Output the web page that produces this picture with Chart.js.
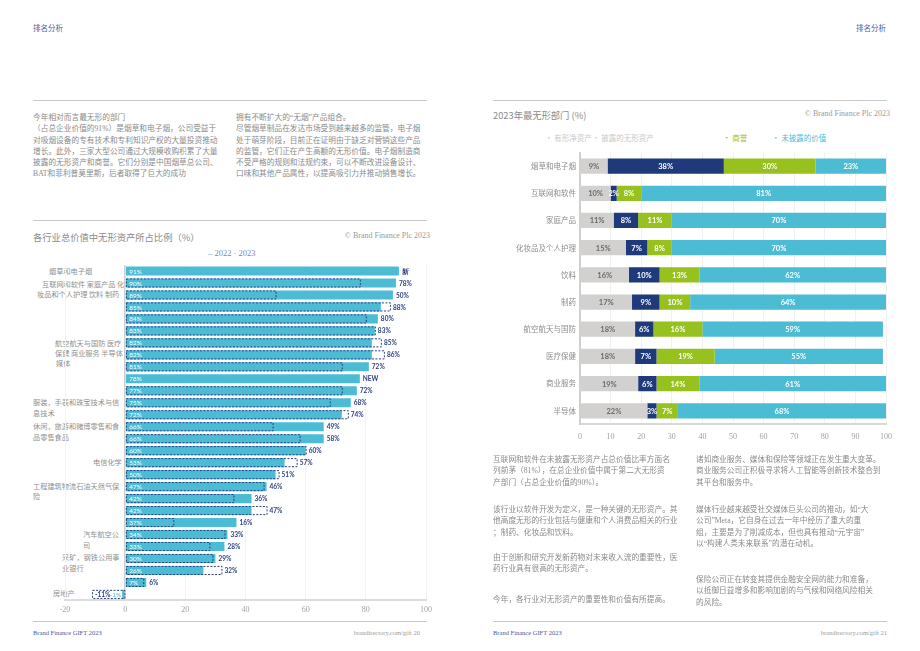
<!DOCTYPE html>
<html lang="zh">
<head>
<meta charset="utf-8">
<title>排名分析</title>
<script src="https://cdn.jsdelivr.net/npm/chart.js@4.4.1/dist/chart.umd.min.js"></script>
<style>
  html, body { margin: 0; padding: 0; background: #fff; }
  body { width: 920px; height: 651px; position: relative; overflow: hidden;
         font-family: "Noto Sans CJK SC", "Noto Sans", sans-serif; }
  .abs { position: absolute; white-space: nowrap; }
  .head { font-size: 7.5px; color: #4b5ca3; top: 22px; }
  .rule { position: absolute; height: 0; border-top: 1px solid #c8c8c8; }
  .body { font-family: "Liberation Serif", "Noto Sans CJK SC", serif; font-size: 7.7px; line-height: 11.3px; color: #8a8a8a; }
  .title { font-size: 9.3px; color: #8c8c8c; }
  .copy { font-family: "Liberation Serif", serif; font-size: 8px; color: #9a9a9a; }
  .foot { font-family: "Liberation Serif", serif; font-size: 6.5px; top: 629px; }
  .cat { font-size: 7.2px; color: #8f8f8f; line-height: 10px; }
  .legend { font-size: 7.5px; }
  canvas { position: absolute; }
</style>
</head>
<body>
<!-- headers -->
<div class="abs head" style="left:33px">排名分析</div>
<div class="abs head" style="left:856px">排名分析</div>

<div class="rule" style="left:33px; width:394px; top:100px"></div>
<div class="rule" style="left:493px; width:394px; top:100px"></div>
<div class="rule" style="left:33px; width:394px; top:220px"></div>

<!-- left page text -->
<div class="abs body" style="left:33px; top:112px">今年相对而言最无形的部门<br>（占总企业价值的91%）是烟草和电子烟，公司受益于<br>对吸烟设备的专有技术和专利知识产权的大量投资推动<br>增长。此外，三家大型公司通过大规模收购积累了大量<br>披露的无形资产和商誉。它们分别是中国烟草总公司、<br>BAT和菲利普莫里斯，后者取得了巨大的成功</div>
<div class="abs body" style="left:236px; top:112px">拥有不断扩大的“无烟”产品组合。<br>尽管烟草制品在发达市场受到越来越多的监管，电子烟<br>处于萌芽阶段，目前正在证明由于缺乏对营销这些产品<br>的监管，它们正在产生高额的无形价值。电子烟制造商<br>不受严格的规则和法规约束，可以不断改进设备设计、<br>口味和其他产品属性，以提高吸引力并推动销售增长。</div>

<!-- left chart -->
<div class="abs title" style="left:33px; top:230px">各行业总价值中无形资产所占比例（%）</div>
<div class="abs copy" style="right:490px; top:231px">© Brand Finance Plc 2023</div>
<div class="abs copy" id="yearLegend" style="left:208px; top:248px; color:#7d88b9; font-size:8.5px"></div>

<div class="abs cat" style="left:49px; top:266px">烟草和电子烟</div>
<div class="abs cat" style="left:42px; top:279px">互联网和软件 家庭产品 化</div>
<div class="abs cat" style="left:37px; top:289px">妆品和个人护理 饮料 制药</div>
<div class="abs cat" style="left:55px; top:338px">航空航天与国防 医疗</div>
<div class="abs cat" style="left:55px; top:348px">保健 商业服务 半导体</div>
<div class="abs cat" style="left:56px; top:358px">媒体</div>
<div class="abs cat" style="left:33px; top:397px">服装，手表和珠宝技术与信</div>
<div class="abs cat" style="left:33px; top:408px">息技术</div>
<div class="abs cat" style="left:33px; top:421px">休闲，旅游和赌博零售和食</div>
<div class="abs cat" style="left:33px; top:432px">品零售食品</div>
<div class="abs cat" style="left:93px; top:457px">电信化学</div>
<div class="abs cat" style="left:33px; top:481px">工程建筑物流石油天然气保</div>
<div class="abs cat" style="left:33px; top:491px">险</div>
<div class="abs cat" style="left:83px; top:529px">汽车航空公</div>
<div class="abs cat" style="left:83px; top:540px">司</div>
<div class="abs cat" style="left:62px; top:552px">采矿，钢铁公用事</div>
<div class="abs cat" style="left:62px; top:563px">业银行</div>
<div class="abs cat" style="left:53px; top:588px">房地产</div>

<canvas id="shareChart" width="410" height="362" style="left:30px; top:258px"></canvas>

<!-- right chart -->
<div class="abs title" style="left:493px; top:108px">2023年最无形部门 (%)</div>
<div class="abs copy" style="right:30px; top:109px">© Brand Finance Plc 2023</div>
<div id="partLegend"></div>
<canvas id="partChart" width="410" height="315" style="left:490px; top:144px"></canvas>

<!-- right page text -->
<div class="abs body" style="left:493px; top:454px">互联网和软件在未披露无形资产占总价值比率方面名<br>列前茅（81%），在总企业价值中属于第二大无形资<br>产部门（占总企业价值的90%）。</div>
<div class="abs body" style="left:493px; top:504px">该行业以软件开发为定义，是一种关键的无形资产。其<br>他高度无形的行业包括与健康和个人消费品相关的行业<br>；制药、化妆品和饮料。</div>
<div class="abs body" style="left:493px; top:552px">由于创新和研究开发新药物对未来收入流的重要性，医<br>药行业具有很高的无形资产。</div>
<div class="abs body" style="left:493px; top:594px">今年，各行业对无形资产的重要性和价值有所提高。</div>
<div class="abs body" style="left:696px; top:454px">诸如商业服务、媒体和保险等领域正在发生重大变革。<br>商业服务公司正积极寻求将人工智能等创新技术整合到<br>其平台和服务中。</div>
<div class="abs body" style="left:696px; top:504px">媒体行业越来越受社交媒体巨头公司的推动，如“大<br>公司”Meta，它自身在过去一年中经历了重大的重<br>组，主要是为了削减成本，但也具有推动“元宇宙”<br>以“构建人类未来联系”的潜在动机。</div>
<div class="abs body" style="left:696px; top:574px">保险公司正在转变其提供金融安全网的能力和准备，<br>以抵御日益增多和影响加剧的与气候和网络风险相关<br>的风险。</div>

<!-- footers -->
<div class="rule" style="left:33px; width:394px; top:621px"></div>
<div class="rule" style="left:493px; width:394px; top:621px"></div>
<div class="abs foot" style="left:33px; color:#4b5a9c">Brand Finance GIFT 2023</div>
<div class="abs foot" style="right:500px; color:#9a9a9a">brandirectory.com/gift 20</div>
<div class="abs foot" style="left:493px; color:#4b5a9c">Brand Finance GIFT 2023</div>
<div class="abs foot" style="right:33px; color:#9a9a9a">brandirectory.com/gift 21</div>

<script>
// Left chart data
let sectors = ["烟草和电子烟", "互联网和软件", "家庭产品", "化妆品和个人护理", "饮料", "制药",
    "航空航天与国防", "医疗保健", "商业服务", "半导体", "媒体", "服装、手表和珠宝", "技术与信息技术",
    "休闲、旅游和赌博", "零售和食品零售", "食品", "电信", "化学", "工程建筑", "物流", "石油天然气",
    "保险", "汽车", "航空公司", "采矿、钢铁", "公用事业", "银行", "房地产"];
let years = ["2022", "2023"];
let share2023 = [91, 90, 89, 85, 84, 83, 82, 82, 81, 78, 77, 75, 72, 66, 66, 60, 53, 50, 47, 42, 42, 37, 34, 33, 30, 26, 7, -1];
let share2022 = [null, 78, 50, 88, 80, 83, 85, 86, 72, null, 72, 68, 74, 49, 58, 60, 57, 51, 46, 36, 47, 16, 33, 28, 29, 32, 6, -11];
let newTags = ["新", "NEW"]; // shown in order on rows without a 2022 value

// Right chart data
let topSectors = ["烟草和电子烟", "互联网和软件", "家庭产品", "化妆品及个人护理", "饮料", "制药",
    "航空航天与国防", "医疗保健", "商业服务", "半导体"];
let partNames = ["有形净资产", "披露的无形资产", "商誉", "未披露的价值"];
let tangible = [9, 10, 11, 15, 16, 17, 18, 18, 19, 22];
let disclosed = [38, 2, 8, 7, 10, 9, 6, 7, 6, 3];
let goodwill = [30, 8, 11, 8, 13, 10, 16, 19, 14, 7];
let undisclosed = [23, 81, 70, 70, 62, 64, 59, 55, 61, 68];

let cyan = "#4bbcd4";
let navy = "#2c3f85";
let partColors = ["#d2d1cf", "#1e3a7b", "#97c11f", cyan];

Chart.defaults.font.family = "'Liberation Serif', serif";
Chart.defaults.color = "#9a9a9a";

// Legends as text
document.getElementById("yearLegend").textContent = "– " + years[0] + " · " + years[1];
let legendX = [545, 592, 723, 772];
let legendText = ["#c9c9c9", "#c9c9c9", "#97c11f", cyan];
partNames.forEach((name, i) => {
    let s = document.createElement("div");
    s.className = "abs legend";
    s.style.left = legendX[i] + "px";
    s.style.top = "132px";
    s.style.color = legendText[i];
    s.textContent = "· " + name;
    document.getElementById("partLegend").appendChild(s);
});

// Dashed 2022 boxes and value labels
const shareLabels = {
    id: "shareLabels",
    afterDatasetsDraw(chart) {
        let ctx = chart.ctx;
        let x = chart.scales.x;
        let bars = chart.getDatasetMeta(0).data;
        let prev = chart.getDatasetMeta(1).data;
        let zero = x.getPixelForValue(0);
        let tag = 0;
        ctx.save();
        ctx.textBaseline = "middle";
        bars.forEach((bar, i) => {
            let h = bar.height;
            let v = share2023[i];
            let p = share2022[i];
            let top = bar.y - h / 2;
            if (p !== null) {
                let pb = prev[i];
                let x0 = Math.min(pb.base, pb.x), x1 = Math.max(pb.base, pb.x);
                ctx.setLineDash([2, 1.5]);
                ctx.strokeStyle = navy;
                ctx.lineWidth = 1;
                ctx.strokeRect(x0 + 0.5, top + 0.5, x1 - x0, h - 1);
                ctx.setLineDash([]);
            }
            if (v >= 0) {
                ctx.font = "6.5px Lato";
                ctx.fillStyle = "#ffffff";
                ctx.textAlign = "left";
                ctx.fillText(v + "%", zero + 4, bar.y + 0.5);
                ctx.font = "bold 6.5px Lato";
                ctx.fillStyle = navy;
                let txt = p === null ? newTags[tag++] : p + "%";
                let end = p === null ? bar.x : Math.max(bar.x, prev[i].x);
                ctx.fillText(txt, end + 3, bar.y + 0.5);
            } else {
                ctx.font = "bold 6.5px Lato";
                ctx.fillStyle = navy;
                ctx.textAlign = "left";
                ctx.fillText(p + "%", Math.min(prev[i].x, bar.x) + 3, bar.y + 0.5);
                ctx.font = "6.5px Lato";
                ctx.fillStyle = cyan;
                ctx.textAlign = "right";
                ctx.fillText(v + "%", bar.x - 1, bar.y + 0.5);
            }
        });
        ctx.restore();
    }
};

new Chart(document.getElementById("shareChart"), {
    type: "bar",
    data: {
        labels: sectors,
        datasets: [
            { label: years[1], data: share2023, backgroundColor: cyan, grouped: false,
              barPercentage: 0.76, categoryPercentage: 1 },
            { label: years[0], data: share2022, backgroundColor: "rgba(0,0,0,0)", grouped: false,
              barPercentage: 0.76, categoryPercentage: 1 }
        ]
    },
    options: {
        indexAxis: "y",
        responsive: false,
        animation: false,
        layout: { padding: { left: 35, right: 14, top: 7, bottom: 0 } },
        plugins: { legend: { display: false }, tooltip: { enabled: false } },
        scales: {
            x: {
                min: -20, max: 100,
                ticks: { stepSize: 20, padding: 5, font: { size: 8 }, color: "#a0a0a0" },
                grid: {
                    drawTicks: false,
                    color: c => c.tick && c.tick.value === 0 ? "#cfcfcf" : "#f3f3f3",
                    lineWidth: c => c.tick && c.tick.value === 0 ? 1.5 : 1
                },
                border: { color: "#dcdcdc", width: 2 }
            },
            y: { display: false }
        }
    },
    plugins: [shareLabels]
});

// Segment labels for the stacked chart
const partLabels = {
    id: "partLabels",
    afterDatasetsDraw(chart) {
        let ctx = chart.ctx;
        ctx.save();
        ctx.font = "bold 7.5px Lato";
        ctx.textAlign = "center";
        ctx.textBaseline = "middle";
        chart.data.datasets.forEach((ds, d) => {
            chart.getDatasetMeta(d).data.forEach((el, i) => {
                ctx.fillStyle = d === 0 ? "#6b6b6b" : "#ffffff";
                let right = Math.min(el.x, chart.chartArea.right);
                ctx.fillText(ds.data[i] + "%", (el.base + right) / 2, el.y + 0.5);
            });
        });
        ctx.restore();
    }
};

let partData = [tangible, disclosed, goodwill, undisclosed];
new Chart(document.getElementById("partChart"), {
    type: "bar",
    data: {
        labels: topSectors,
        datasets: partNames.map((name, i) => ({
            label: name,
            data: partData[i],
            backgroundColor: partColors[i],
            barPercentage: 0.56,
            categoryPercentage: 1
        }))
    },
    options: {
        indexAxis: "y",
        responsive: false,
        animation: false,
        layout: { padding: { left: 0, right: 14, top: 2.5, bottom: 9 } },
        plugins: { legend: { display: false }, tooltip: { enabled: false } },
        scales: {
            x: {
                stacked: true, min: 0, max: 100,
                ticks: { stepSize: 10, padding: 8, font: { size: 8 }, color: "#a0a0a0" },
                grid: { drawTicks: false, color: "#f0f0f0" },
                border: { color: "#d8d8d8", width: 2 }
            },
            y: {
                stacked: true,
                afterFit: axis => { axis.width = 90; },
                ticks: { padding: 4, color: "#8c8c8c", font: { family: "'Noto Sans CJK SC'", size: 7.5 } },
                grid: { drawTicks: false, color: "rgba(0,0,0,0)" },
                border: { color: "#cfcfcf", width: 2 }
            }
        }
    },
    plugins: [partLabels]
});
</script>
</body>
</html>
